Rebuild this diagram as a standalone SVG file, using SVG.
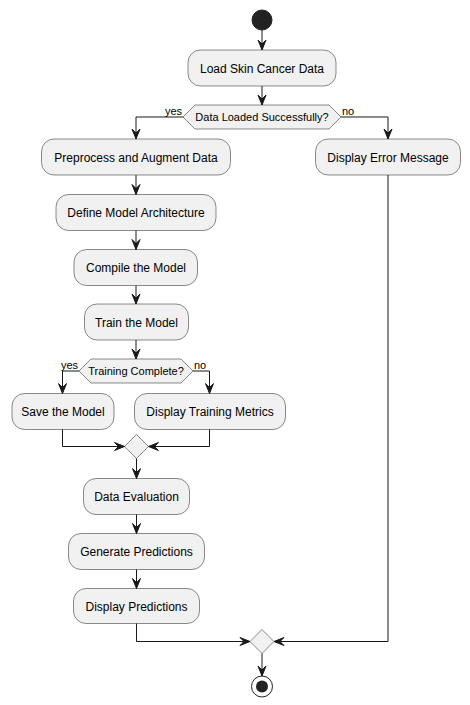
<svg xmlns="http://www.w3.org/2000/svg" width="470" height="705" viewBox="0 0 470 705">
<style>
.box{fill:#F1F1F1;stroke:#181818;stroke-width:0.5}
.lbl{font-family:"Liberation Sans",Arial,sans-serif;font-size:12px;fill:#000;text-anchor:middle}
.dl{font-family:"Liberation Sans",Arial,sans-serif;font-size:11px;fill:#000;text-anchor:middle}
.el{font-family:"Liberation Sans",Arial,sans-serif;font-size:11px;fill:#000}
.ln{fill:none;stroke:#181818;stroke-width:1}
.ah{fill:#181818;stroke:#181818;stroke-width:1}
</style>
<defs>
<path id="ad" d="M-4,-10 L0,0 L4,-10 L0,-6 Z"/>
<path id="ar" d="M-10,-4 L0,0 L-10,4 L-6,0 Z"/>
<path id="al" d="M10,-4 L0,0 L10,4 L6,0 Z"/>
</defs>
<rect width="470" height="705" fill="#FFFFFF"/>

<g id="start"><circle cx="262" cy="20" r="10" fill="#222222" stroke="#222222"/></g>

<g id="load"><rect class="box" x="188" y="50" width="148" height="36" rx="12.5"/><text class="lbl" x="262" y="72.5">Load Skin Cancer Data</text></g>

<g id="dec1"><polygon class="box" points="183,117 195,105 329,105 341,117 329,129 195,129"/><text class="dl" x="262" y="121">Data Loaded Successfully?</text></g>

<g id="preprocess"><rect class="box" x="41.5" y="139" width="189" height="36" rx="12.5"/><text class="lbl" x="136" y="161.5">Preprocess and Augment Data</text></g>

<g id="error"><rect class="box" x="315.5" y="139" width="145" height="36" rx="12.5"/><text class="lbl" x="388" y="161.5">Display Error Message</text></g>

<g id="define"><rect class="box" x="56" y="194.5" width="160" height="36" rx="12.5"/><text class="lbl" x="136" y="217">Define Model Architecture</text></g>

<g id="compile"><rect class="box" x="74" y="249.5" width="123.5" height="36" rx="12.5"/><text class="lbl" x="136" y="272">Compile the Model</text></g>

<g id="train"><rect class="box" x="84.5" y="304" width="104" height="36" rx="12.5"/><text class="lbl" x="136.5" y="326.5">Train the Model</text></g>

<g id="dec2"><polygon class="box" points="79,371 91,359 181,359 193,371 181,383 91,383"/><text class="dl" x="136" y="375">Training Complete?</text></g>

<g id="save"><rect class="box" x="12" y="393.5" width="102" height="36" rx="12.5"/><text class="lbl" x="63" y="416">Save the Model</text></g>

<g id="metrics"><rect class="box" x="134.5" y="393.5" width="151" height="36" rx="12.5"/><text class="lbl" x="210" y="416">Display Training Metrics</text></g>

<g id="merge1"><polygon class="box" points="136.5,434.5 148.5,446.5 136.5,458.5 124.5,446.5"/></g>

<g id="evaluation"><rect class="box" x="83.5" y="478.5" width="106" height="36" rx="12.5"/><text class="lbl" x="136.5" y="501">Data Evaluation</text></g>

<g id="generate"><rect class="box" x="68.5" y="533.5" width="136" height="36" rx="12.5"/><text class="lbl" x="136.5" y="556">Generate Predictions</text></g>

<g id="displaypred"><rect class="box" x="73.5" y="588.5" width="126" height="35" rx="12.5"/><text class="lbl" x="136.5" y="610.5">Display Predictions</text></g>

<g id="merge2"><polygon class="box" points="262,629.5 274,641.5 262,653.5 250,641.5"/></g>

<g id="end"><circle cx="262" cy="686.5" r="10.5" fill="none" stroke="#222222" stroke-width="1"/><circle cx="262" cy="686.5" r="6" fill="#222222"/></g>

<g id="connectors">
<line class="ln" x1="262" y1="30" x2="262" y2="50"/><use href="#ad" class="ah" x="262" y="50"/>
<line class="ln" x1="262" y1="86" x2="262" y2="105"/><use href="#ad" class="ah" x="262" y="105"/>
<polyline class="ln" points="183,117 136,117 136,139"/><use href="#ad" class="ah" x="136" y="139"/>
<text class="el" x="165" y="115">yes</text>
<polyline class="ln" points="341,117 388,117 388,139"/><use href="#ad" class="ah" x="388" y="139"/>
<text class="el" x="342" y="115">no</text>
<line class="ln" x1="136" y1="175" x2="136" y2="194.5"/><use href="#ad" class="ah" x="136" y="194.5"/>
<line class="ln" x1="136" y1="230.5" x2="136" y2="249.5"/><use href="#ad" class="ah" x="136" y="249.5"/>
<line class="ln" x1="136" y1="285.5" x2="136" y2="304"/><use href="#ad" class="ah" x="136" y="304"/>
<line class="ln" x1="136" y1="340" x2="136" y2="359"/><use href="#ad" class="ah" x="136" y="359"/>
<polyline class="ln" points="79,371 62.5,371 62.5,393.5"/><use href="#ad" class="ah" x="62.5" y="393.5"/>
<text class="el" x="61" y="369">yes</text>
<polyline class="ln" points="193,371 209.5,371 209.5,393.5"/><use href="#ad" class="ah" x="209.5" y="393.5"/>
<text class="el" x="194" y="369">no</text>
<polyline class="ln" points="62.5,429.5 62.5,446.5 124.5,446.5"/><use href="#ar" class="ah" x="124.5" y="446.5"/>
<polyline class="ln" points="209.5,429.5 209.5,446.5 148.5,446.5"/><use href="#al" class="ah" x="148.5" y="446.5"/>
<line class="ln" x1="136.5" y1="458.5" x2="136.5" y2="478.5"/><use href="#ad" class="ah" x="136.5" y="478.5"/>
<line class="ln" x1="136.5" y1="514.5" x2="136.5" y2="533.5"/><use href="#ad" class="ah" x="136.5" y="533.5"/>
<line class="ln" x1="136.5" y1="569.5" x2="136.5" y2="588.5"/><use href="#ad" class="ah" x="136.5" y="588.5"/>
<polyline class="ln" points="136.5,623.5 136.5,641.5 250,641.5"/><use href="#ar" class="ah" x="250" y="641.5"/>
<polyline class="ln" points="388,175 388,641.5 274,641.5"/><use href="#al" class="ah" x="274" y="641.5"/>
<line class="ln" x1="262" y1="653.5" x2="262" y2="676"/><use href="#ad" class="ah" x="262" y="676"/>
</g>
</svg>
